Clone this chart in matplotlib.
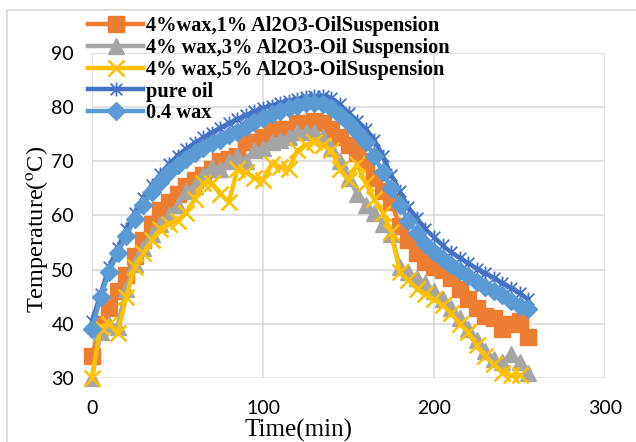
import matplotlib
matplotlib.use("Agg")
import matplotlib.pyplot as plt
from matplotlib.path import Path
from matplotlib.patches import Rectangle

# time axis (minutes)
time_min = [0, 5, 10, 15, 20, 25, 30, 35, 40, 45,
            50, 55, 60, 65, 70, 75, 80, 85, 90, 95,
            100, 105, 110, 115, 120, 125, 130, 135, 140, 145,
            150, 155, 160, 165, 170, 175, 180, 185, 190, 195,
            200, 205, 210, 215, 220, 225, 230, 235, 240, 245,
            250, 255]

wax4_al1 = [34, 40, 43, 46, 49, 52.5, 55.5, 58.5, 61, 62.5,
            64, 65.5, 66.5, 67.5, 68.5, 70, 70.5, 71, 73.5, 73.5,
            74.5, 76, 76, 76, 77, 77, 77.5, 77, 76, 74.5,
            73, 71.5, 70, 67, 64.5, 62.5, 58, 55.5, 53, 51.5,
            50.5, 50, 48.5, 46.5, 44.5, 43, 41.5, 41, 39, 40,
            40.5, 37.5]

wax4_al3 = [30, 38.5, 40, 39.5, 46.5, 51, 54, 56.5, 58.5, 60,
            62, 64.5, 65.5, 67.5, 69, 68.5, 70, 71, 70, 72,
            72.5, 73.5, 74, 74.5, 75.5, 75.5, 75.5, 74.5, 72.5, 70,
            67, 64, 62, 60.5, 58.5, 56.5, 50.5, 49.5, 48.5, 47.5,
            46, 44.5, 43, 41, 39, 37, 35, 33.5, 33, 34.5,
            33, 31]

wax4_al5 = [30, 39.5, 40, 38.3, 45, 50.5, 53, 55.5, 57.5, 58.5,
            59, 60.5, 63, 66, 66, 64, 62.5, 68.5, 68, 67,
            66.5, 69.5, 69, 68.5, 72, 73, 73.5, 73, 72, 68.5,
            66.5, 69.5, 66, 63, 60.5, 57, 49.5, 48, 46.5, 45.5,
            44.5, 43.5, 42, 40, 38.5, 36, 34, 32.5, 31, 30.5,
            30.5]

pure_oil = [40.5, 45.5, 50.5, 54, 57.5, 60.5, 63.3, 65.7, 67.7, 69.5,
            71, 72.3, 73.4, 74.4, 75.3, 76.2, 77, 77.8, 78.5, 79.2,
            79.8, 80.3, 80.8, 81.2, 81.5, 81.8, 82, 82, 81.7, 80.5,
            79, 77.5, 76, 74, 71, 67.5, 64.5, 61.5, 59.5, 57.5,
            56, 54.5, 53.2, 52.2, 51.2, 50.2, 49.3, 48.5, 47.5, 46.7,
            45.7, 44.5]

wax_04 = [39, 45, 49.5, 53, 56.3, 59.3, 62, 64.3, 66.2, 68,
          69.3, 70.5, 71.5, 72.5, 73.3, 74, 74.8, 75.5, 76.3, 77.2,
          78, 78.7, 79.3, 79.8, 80.3, 80.7, 80.8, 80.5, 79.8, 78.5,
          77, 75.5, 73.5, 71, 68, 65, 62, 59, 56.8, 54.8,
          53.3, 52, 50.8, 49.8, 48.8, 47.8, 46.8, 46, 45.3, 44.3,
          43.3, 42.8]

labels = ["4%wax,1% Al2O3-OilSuspension",
          "4% wax,3% Al2O3-Oil Suspension",
          "4% wax,5% Al2O3-OilSuspension",
          "pure oil",
          "0.4 wax"]

x_ticks = [0, 100, 200, 300]
y_ticks = [30, 40, 50, 60, 70, 80, 90]

plt.rcParams["mathtext.fontset"] = "stix"

# excel style star: an X with a vertical bar
star = Path([(-1, -1), (1, 1), (-1, 1), (1, -1), (0, -1.2), (0, 1.2)],
            [Path.MOVETO, Path.LINETO, Path.MOVETO, Path.LINETO,
             Path.MOVETO, Path.LINETO])

fig = plt.figure(figsize=(6.36, 4.42), dpi=100)

# light chart-area frame (only left/top edges are inside the picture)
fig.patches.append(Rectangle((7 / 636, -0.2), 1.2, 1.2 - 10 / 442,
                             transform=fig.transFigure, fill=False,
                             edgecolor="#d9d9d9", linewidth=1.2))

ax = fig.add_axes([92 / 636, 1 - 378 / 442, (605 - 92) / 636, (378 - 53) / 442])

lw = 3.2
series = [
    (wax4_al1, dict(color="#ED7D31", marker="s", markersize=11.5)),
    (wax4_al3, dict(color="#A5A5A5", marker="^", markersize=11.5)),
    (wax4_al5, dict(color="#FFC000", marker="x", markersize=11, markeredgewidth=1.8)),
    (pure_oil, dict(color="#4472C4", marker=star, markersize=10, markeredgewidth=1.3)),
    (wax_04, dict(color="#5B9BD5", marker="D", markersize=9.5)),
]
for (vals, style), lab in zip(series, labels):
    ax.plot(time_min[:len(vals)], vals, linewidth=lw, label=lab,
            clip_on=False, **style)

ax.set_xlim(0, 300)
ax.set_ylim(30, 90)
ax.set_xticks(x_ticks)
ax.set_yticks(y_ticks)
ax.grid(True, color="#d9d9d9", linewidth=1.1)
ax.set_axisbelow(True)
for s in ax.spines.values():
    s.set_visible(False)
ax.tick_params(length=0, labelsize=14)
ax.tick_params(axis="y", pad=13)
ax.tick_params(axis="x", pad=16)
for t in ax.get_xticklabels() + ax.get_yticklabels():
    t.set_fontfamily("Lato")

ax.set_xlabel("Time(min)", fontsize=18, fontfamily="Liberation Serif")
ax.xaxis.set_label_coords(0.403, -0.125)
ax.set_ylabel("Temperature($^{\\mathrm{o}}$C)", fontsize=17.5,
              fontfamily="Liberation Serif", va="center")
ax.yaxis.set_label_coords(-0.107, 0.458)

fig.legend(loc="upper left", bbox_to_anchor=(88 / 636, 1 - 16 / 442),
           frameon=False, handlelength=2.7, handletextpad=0.15,
           labelspacing=0.09, borderpad=0, borderaxespad=0,
           prop={"family": "Liberation Serif", "weight": "bold", "size": 14.7})

fig.savefig("out.png", dpi=100)
